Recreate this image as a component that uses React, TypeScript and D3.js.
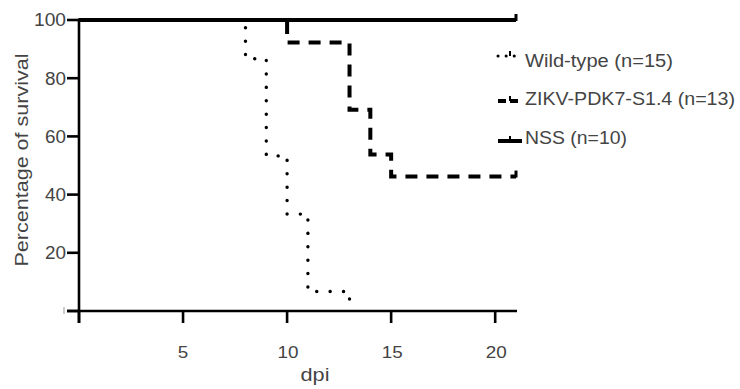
import React, { useEffect, useRef } from 'react';
import * as d3 from 'd3';

// survival curves (Kaplan-Meier steps), days post infection vs % survival
const wildTypeDays = [0, 8, 9, 10, 11, 13];
const wildTypeSurvival = [100, 86.7, 53.3, 33.3, 6.7, 0];
const zikvDays = [0, 10, 13, 14, 15, 21];
const zikvSurvival = [100, 92.3, 69.2, 53.8, 46.2, 46.2];
const nssDays = [0, 21];
const nssSurvival = [100, 100];

const xTicks = [0, 5, 10, 15, 20];
const yTicks = [0, 20, 40, 60, 80, 100];
const legendLabels = ['Wild-type (n=15)', 'ZIKV-PDK7-S1.4 (n=13)', 'NSS (n=10)'];

const App = () => {
  const chartRef = useRef(null);

  useEffect(() => {
    const width = 740;
    const height = 389;
    const textColor = '#444';
    const font = 'Liberation Sans, Arial, sans-serif';

    const svg = d3.select(chartRef.current)
      .append('svg')
      .attr('width', width)
      .attr('height', height)
      .style('position', 'absolute')
      .style('left', 0)
      .style('top', 0)
      .style('background', '#fff');

    const x = d3.scaleLinear().domain([0, 21]).range([79, 516]);
    const y = d3.scaleLinear().domain([0, 100]).range([311, 20]);

    const axes = svg.append('g').attr('stroke', '#000').attr('stroke-width', 2.6);

    // y axis
    axes.append('line')
      .attr('x1', x(0)).attr('x2', x(0))
      .attr('y1', y(100) - 1).attr('y2', y(0) + 12);
    axes.selectAll('.ytick')
      .data(yTicks)
      .enter()
      .append('line')
      .attr('x1', x(0) - 12).attr('x2', x(0))
      .attr('y1', (d) => y(d)).attr('y2', (d) => y(d));

    // x axis
    axes.append('line')
      .attr('x1', x(0) - 12).attr('x2', x(21) + 1)
      .attr('y1', y(0)).attr('y2', y(0));
    axes.selectAll('.xtick')
      .data(xTicks)
      .enter()
      .append('line')
      .attr('x1', (d) => x(d)).attr('x2', (d) => x(d))
      .attr('y1', y(0)).attr('y2', y(0) + 12);

    // faint mark where the 0 label was clipped
    svg.append('line')
      .attr('x1', 64).attr('x2', 64)
      .attr('y1', y(0) - 4).attr('y2', y(0) + 3)
      .attr('stroke', '#bbb').attr('stroke-width', 1.5);

    svg.selectAll('.ylabel')
      .data(yTicks.filter((d) => d > 0))
      .enter()
      .append('text')
      .attr('x', 66)
      .attr('y', (d) => y(d))
      .attr('dy', '0.36em')
      .attr('text-anchor', 'end')
      .attr('font-family', font)
      .attr('font-size', 18)
      .attr('textLength', (d) => (d === 100 ? 32 : 21))
      .attr('lengthAdjust', 'spacingAndGlyphs')
      .attr('fill', textColor)
      .text((d) => d);

    svg.selectAll('.xlabel')
      .data(xTicks.filter((d) => d > 0))
      .enter()
      .append('text')
      .attr('x', (d) => x(d) + (d < 10 ? 0 : 1))
      .attr('y', 358)
      .attr('text-anchor', 'middle')
      .attr('font-family', font)
      .attr('font-size', 17)
      .attr('textLength', (d) => (d < 10 ? 10.5 : 21))
      .attr('lengthAdjust', 'spacingAndGlyphs')
      .attr('fill', textColor)
      .text((d) => d);

    svg.append('text')
      .attr('x', 315)
      .attr('y', 381)
      .attr('text-anchor', 'middle')
      .attr('font-family', font)
      .attr('font-size', 18)
      .attr('textLength', 29)
      .attr('lengthAdjust', 'spacingAndGlyphs')
      .attr('fill', textColor)
      .text('dpi');

    svg.append('text')
      .attr('transform', 'translate(28, 160) rotate(-90)')
      .attr('text-anchor', 'middle')
      .attr('font-family', font)
      .attr('font-size', 18.5)
      .attr('textLength', 213)
      .attr('lengthAdjust', 'spacingAndGlyphs')
      .attr('fill', textColor)
      .text('Percentage of survival');

    const line = d3.line()
      .x((d) => x(d[0]))
      .y((d) => y(d[1]))
      .curve(d3.curveStepAfter);

    const series = [
      { days: zikvDays, values: zikvSurvival, dash: '12 9', width: 4, cap: 'butt', censor: true },
      { days: wildTypeDays, values: wildTypeSurvival, dash: '0.1 13.3', width: 3.4, cap: 'round', censor: false },
      { days: nssDays, values: nssSurvival, dash: null, width: 4, cap: 'butt', censor: true },
    ];

    series.forEach((s) => {
      const pts = s.days.map((d, i) => [d, s.values[i]]);
      svg.append('path')
        .attr('d', line(pts))
        .attr('fill', 'none')
        .attr('stroke', '#000')
        .attr('stroke-width', s.width)
        .attr('stroke-linecap', s.cap)
        .attr('stroke-dasharray', s.dash);
      if (s.censor) {
        const last = pts[pts.length - 1];
        svg.append('line')
          .attr('x1', x(last[0])).attr('x2', x(last[0]))
          .attr('y1', y(last[1]) + 1).attr('y2', y(last[1]) - 6)
          .attr('stroke', '#000').attr('stroke-width', 3);
      }
    });

    // legend
    const legendTextY = [61, 99, 138];
    const legendLineY = [56, 101, 141];
    const legendTextWidth = [148, 210, 102];
    const legendStyles = [
      { dash: '0.1 8', width: 3, cap: 'round' },
      { dash: '8 4', width: 4, cap: 'butt' },
      { dash: null, width: 4, cap: 'butt' },
    ];
    legendLabels.forEach((label, i) => {
      const g = svg.append('g');
      g.append('line')
        .attr('x1', 498).attr('x2', 522)
        .attr('y1', legendLineY[i]).attr('y2', legendLineY[i])
        .attr('stroke', '#000')
        .attr('stroke-width', legendStyles[i].width)
        .attr('stroke-linecap', legendStyles[i].cap)
        .attr('stroke-dasharray', legendStyles[i].dash);
      g.append('line')
        .attr('x1', 510).attr('x2', 510)
        .attr('y1', legendLineY[i] - 5).attr('y2', legendLineY[i])
        .attr('stroke', '#000').attr('stroke-width', 2);
      g.append('text')
        .attr('x', 525)
        .attr('y', legendTextY[i])
        .attr('dy', '0.36em')
        .attr('font-family', font)
        .attr('font-size', 17.5)
        .attr('textLength', legendTextWidth[i])
        .attr('lengthAdjust', 'spacingAndGlyphs')
        .attr('fill', textColor)
        .text(label);
    });

    return () => {
      d3.select(chartRef.current).selectAll('svg').remove();
    };
  }, []);

  return <div ref={chartRef} />;
};

export default App;
